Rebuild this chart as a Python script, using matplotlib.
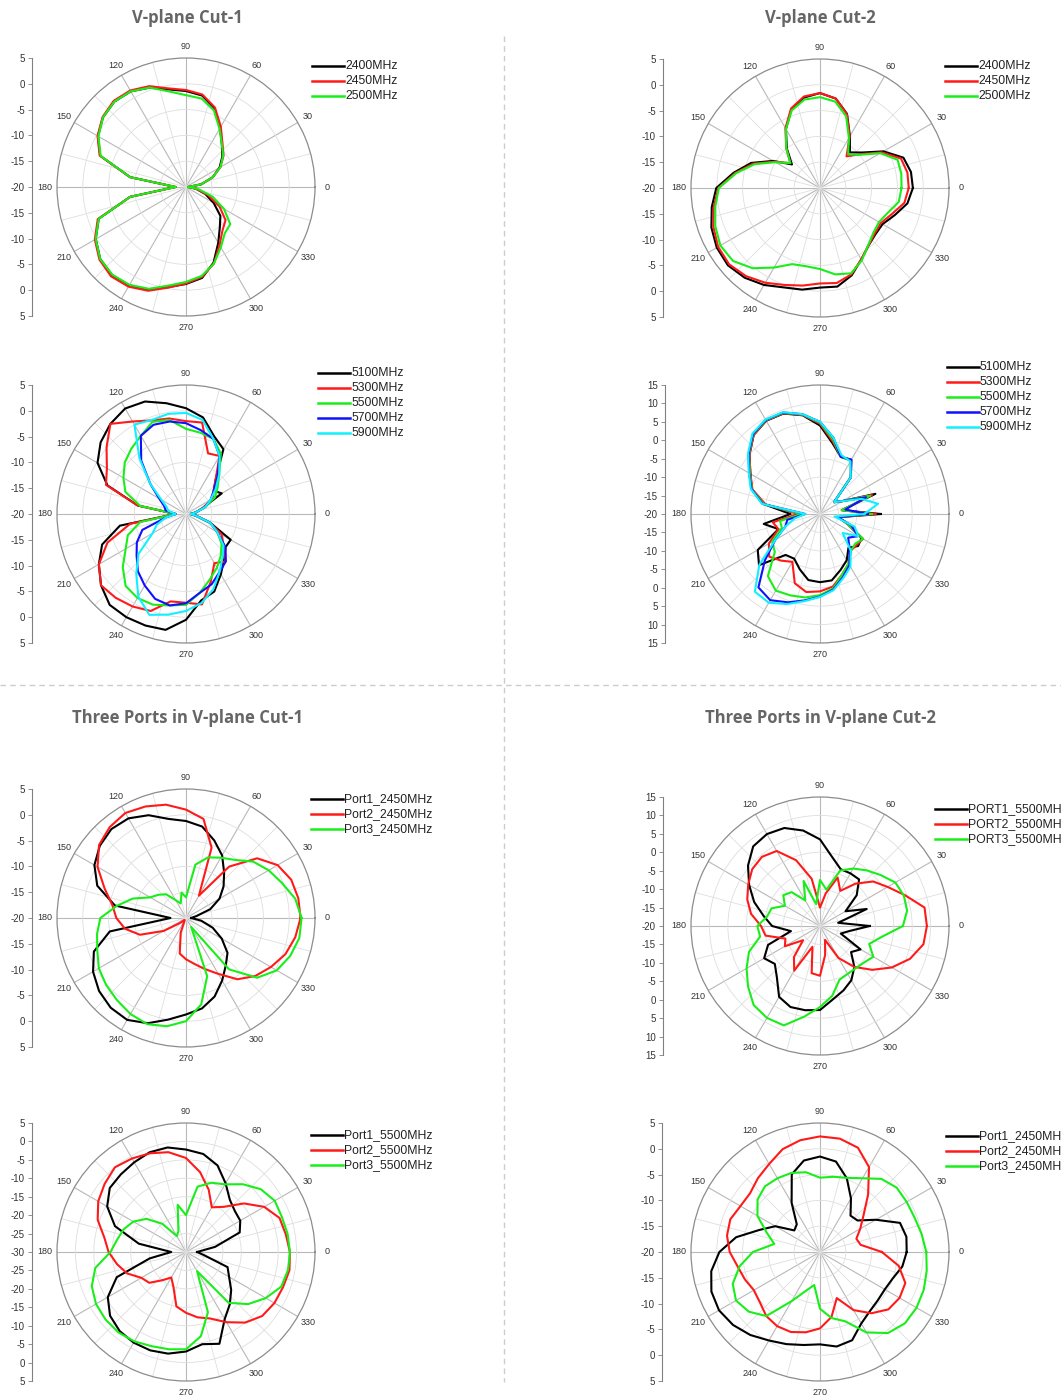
import numpy as np
import matplotlib
matplotlib.use("Agg")
import matplotlib.pyplot as plt
from matplotlib.lines import Line2D

W, H = 1061, 1396
plt.rcParams['font.family'] = ['Liberation Sans', 'DejaVu Sans']

# angles of the measured points (deg), values in dB
ANGLES = np.arange(0, 360, 10)

# V-plane Cut-1, 2.4 GHz band
cut1_2400 = [-19.5, -17, -14.5, -12.5, -10.8, -9.2, -6.8, -3.8, -2.0, -1.4, -0.8, 0.5, 1.4, 1.6, 1.0, -0.3, -2.3, -9,
             -18, -9, -2.0, 0.2, 1.7, 2.3, 2.0, 1.2, -0.3, -1.2, -2.1, -4.4, -7.5, -9.8, -11.3, -13.8, -16, -18]
cut1_2450 = [-19.5, -17, -14.5, -12.3, -10.5, -9, -6.5, -3.6, -1.8, -1.2, -0.6, 0.8, 1.6, 1.8, 1.1, -0.2, -2.2, -9,
             -18, -9, -1.8, 0.4, 1.9, 2.6, 2.3, 1.4, -0.2, -1.3, -2.3, -4.2, -7, -9, -10, -12.5, -15.5, -18]
cut1_2500 = [-19.5, -17, -14.5, -12.3, -10.6, -9.2, -7, -4.2, -2.6, -2.2, -1.2, 0.5, 1.4, 1.6, 1.0, -0.4, -2.4, -9,
             -18, -9, -2.0, 0.2, 1.7, 2.2, 1.9, 1.0, -0.6, -1.6, -2.5, -4.2, -6.5, -8.3, -8.8, -11.5, -14.5, -17.5]

# V-plane Cut-2, 2.4 GHz band
cut2_2400 = [-2.0, -2.1, -2.8, -5.8, -9.3, -11, -8.4, -4.7, -2.4, -1.6, -2.2, -3.8, -6.8, -10, -12.9, -9.5, -5.8, -3.0,
             0.1, 1.3, 2.4, 3.1, 3.3, 2.7, 1.7, 0.5, 0.0, -0.7, -0.6, -2.0, -4.0, -5.4, -6.0, -6.0, -4.6, -2.8]
cut2_2450 = [-2.8, -2.8, -3.3, -6.2, -9.8, -12, -8.5, -4.8, -2.4, -1.6, -2.0, -3.6, -6.6, -9.8, -12.5, -9.8, -6.2, -3.3,
             -0.3, 0.9, 2.0, 2.8, 3.0, 2.3, 1.2, 0.0, -0.8, -1.5, -1.3, -2.2, -4.0, -5.4, -6.2, -6.4, -5.2, -3.4]
cut2_2500 = [-4.2, -4.0, -4.0, -6.5, -10, -11.5, -8.8, -5.2, -3.0, -2.4, -2.6, -4.0, -6.8, -9.8, -12.5, -10, -6.5, -3.5,
             -0.4, 0.6, 1.6, 2.3, 2.0, 0.3, -2.2, -4.3, -4.6, -4.3, -3.0, -2.4, -3.8, -5.5, -6.5, -6.8, -6.0, -4.5]

# V-plane Cut-1, 5 GHz band
cut1_5100 = [-19, -18, -16.5, -12, -13, -11, -5.5, -4, -1, 0.5, 1.8, 3.2, 3.6, 2.8, 1.6, -0.2, -3.8, -10.5,
             -18, -7, -2.7, -0.5, 1.5, 3, 3.1, 3, 2.8, 0.5, -3, -4, -6.5, -8.5, -10, -10, -15, -18]
cut1_5300 = [-19, -18, -16.5, -14, -13, -11, -7, -7.5, -2, -2, -1.2, -0.7, 0.7, 2.8, 0.1, -2.3, -3.5, -10.5,
             -18, -9, -3.8, -0.5, 1.5, 1.2, 0.7, 0, -2.8, -2.8, -2.2, -6, -9, -8, -10.5, -12, -15, -18]
cut1_5500 = [-19, -18, -16, -13.5, -12, -10, -6.5, -4.5, -4, -3.5, -1.5, -1, -2.5, -3.5, -4.5, -6, -7.5, -11,
             -18, -11, -8, -6.5, -4, -1.8, -1.2, -1.3, -2, -2.4, -4.5, -6.5, -8, -9.5, -11, -13, -15, -18]
cut1_5700 = [-19, -18, -16, -14.5, -13, -10.5, -7, -4.5, -3.5, -2.4, -1.8, -1.6, -2.5, -6.5, -11, -14, -15.5, -16,
             -18, -16, -11, -9, -7.5, -5.5, -4, -2.5, -2, -2.7, -4.5, -5.5, -7, -8, -10, -13, -15, -18]
cut1_5900 = [-19, -18, -16, -14.5, -12.5, -10, -7, -4.5, -1.5, -0.4, -0.3, -0.6, 0, -6, -11, -14.5, -16, -16.5,
             -18, -16, -14, -12.5, -8, -5, -1.5, 0.8, -0.2, -1.2, -2.5, -4.5, -7, -9, -10.5, -13, -15, -18]

# V-plane Cut-2, 5 GHz band
cut2_5100 = [-3.5, -14, -4, -13, -15, -7, -3, -3.5, -0.5, 4, 7.2, 9, 9.2, 8, 5, 1.8, -0.3, -4.5,
             -12, -4.5, -8, -0.5, 1.6, -5.5, -6, -4, -1.8, -1.5, -1.7, -3.8, -5.5, -8, -6.5, -7, -12, -15]
cut2_5300 = [-5, -14, -5, -13, -15, -7, -3.2, -3.5, 0, 4.5, 7.3, 9.1, 9.3, 8, 5, 1.8, -0.5, -5,
             -14, -7, -8, -4, -2, -3.5, -5, 0, 1.5, 1, 0, -2.5, -4.5, -7, -7, -6.5, -12, -15]
cut2_5500 = [-6, -14, -5.5, -13, -15, -7, -3.3, -3.5, 0.5, 4.8, 7.4, 9.2, 9.4, 8.2, 5.2, 2, -0.3, -4.5,
             -15, -9, -9, -5, -4, 2, 4, 3.5, 3, 2, 0.5, -2.5, -4.5, -7, -7.5, -6.5, -12, -15]
cut2_5700 = [-7, -13, -6.7, -13, -15, -7, -3, -3.5, 1, 5, 7.5, 9.3, 9.5, 8.3, 5.3, 2.2, -0.2, -4.2,
             -16, -11, -10, -6, -0.5, 6, 7, 5.5, 3.8, 2.4, 0.8, -1.8, -4, -7.5, -10, -8, -11, -15]
cut2_5900 = [-8, -4, -8, -13, -15, -7, -3.5, -3, 1, 5, 7.5, 9.4, 9.6, 8.5, 5.5, 2.3, 0, -4,
             -16, -13, -10, -6, 1.5, 7.5, 7.8, 6, 4, 2.5, 1, -1.5, -3.5, -7, -12, -8, -10, -16]

# Three ports, Cut-1, 2450 MHz
p3c1_2g_port1 = [-19, -18, -15, -12.5, -10.5, -8.5, -6, -4, -2, -1.2, -0.5, 1.2, 2.3, 2.5, 1.8, 0.5, -1.7, -6,
                 -17, -5, -1, 0.8, 2, 2.7, 2.8, 1.7, 0, -1.3, -2.2, -3.8, -6, -8, -9.5, -12, -14.5, -17]
p3c1_2g_port2 = [2.2, 2.1, 1.7, 0.5, -2, -7, -15, -5.5, -0.5, 1.0, 2.3, 3.0, 3.5, 3.0, 2, -0.2, -3.2, -5.5,
                 -6.5, -8, -10.5, -15, -18.5, -19.5, -19.5, -17, -13, -12, -11, -9.5, -7.5, -4.5, -2.5, -1, 0.5, 1.5]
p3c1_2g_port3 = [2.4, 1.5, -0.2, -1.5, -3, -5.3, -6.5, -7.5, -9.5, -16, -15, -17, -16, -14, -13, -12, -9, -6.4,
                 -3.4, -2.5, -1.7, -0.5, 0.2, 0.8, 1.5, 1.9, 1.3, 0, -3, -8, -18, -7, -2, 0.3, 1.5, 2.3]

# Three ports, Cut-2, 5500 MHz
p3c2_5g_port1 = [-6.5, -15, -6.5, -12, -7, -3.5, -3.5, -3.6, -1, 3.5, 6.3, 8.3, 8.8, 8.2, 5.5, 2.2, -1, -4.5,
                 -7, -12, -5, -2.5, -4, -1.8, 2.2, 3.4, 3.2, 2.8, 0.2, -1.4, -3, -5.5, -9, -7.3, -14, -12]
p3c2_5g_port2 = [9, 8.8, 4.5, 1.2, -1.2, -5, -9, -6, -11, -15, -7, -1, 3.5, 4.5, 4, 2.5, 1, -1,
                 -4, -5, -10, -9, -14, -9, -6, -14, -7, -6.5, -12, -16, -10, -5.5, -1.5, 2.5, 6, 8.5]
p3c2_5g_port3 = [2.5, 4, 4.2, 3.6, 1.5, -0.3, -2, -4, -10, -7.5, -14, -7, -12, -8, -7, -9, -6, -5.4,
                 -3, -3.5, 0.5, 3, 5.5, 8, 8.8, 8.7, 5, 2, -0.8, -4.5, -5, -5, -4.5, -3.3, -5.8, -3]

# Three ports, Cut-1, 5500 MHz
p3c1_5g_port1 = [-27, -22, -14.5, -13, -12.7, -11.5, -8.5, -5, -3, -2.2, -1.2, -1.2, -1.9, -2.5, -3, -5.3, -9.5, -17,
                 -26, -20, -10, -5.5, -3.1, -2, -1.6, -1.6, -2, -3, -4.6, -3.5, -9, -11.5, -14, -16.5, -18, -25]
p3c1_5g_port2 = [-1.8, -2.5, -3, -5.5, -9.5, -14, -16, -12, -8, -4.5, -2.5, -1.5, -0.7, 0, -1.2, -2.5, -4.5, -7.5,
                 -9, -11, -13, -16, -17, -20, -22, -20, -15, -13.5, -12, -10.8, -8, -5, -3, -2.3, -2, -1.5]
p3c1_5g_port3 = [-1.8, -2, -2.3, -2.2, -3.5, -6, -8.8, -10, -12, -20, -17, -24, -25, -20, -16, -13.5, -12, -11,
                 -9.5, -5, -2.8, -1.8, -1.5, -1.5, -2, -2.8, -3.2, -3.6, -6.8, -12.6, -24, -12, -8, -5, -2.5, -1.9]

# Three ports, Cut-2, 2450 MHz
p3c2_2g_port1 = [-3.2, -3, -3.5, -7.5, -10.5, -10.8, -8, -4.8, -2.2, -1.5, -2, -4, -9, -13, -13.5, -10, -7.5, -3.5,
                 -0.5, 1.4, 2.4, 2.6, 2, 1, -0.2, -1, -1.7, -2.1, -1.4, -1.8, -4, -5, -5.4, -5.5, -5, -3.8]
p3c2_2g_port2 = [-8, -12, -12.5, -11, -9, -5.5, -1, 1.5, 2.3, 2.4, 2.0, 1.2, -0.3, -1.3, -2.3, -2.2, -1.5, -1.7,
                 -2.5, -3.8, -4.5, -5.2, -4.8, -3.8, -3.4, -3.5, -4.2, -5.2, -7.2, -10.5, -7, -4.5, -2.7, -2.2, -2.4, -4.5]
p3c2_2g_port3 = [0.6, 0, -0.5, -0.6, -0.6, -1.5, -3.5, -4.7, -5.2, -5.6, -4.3, -3.7, -3.5, -3.4, -4.2, -6, -9, -11,
                 -7, -4.2, -2, -1.2, -2, -3.8, -9, -12, -13.5, -9, -7, -5.7, -2, 0.5, 1.5, 1.6, 1.4, 1]

BLACK, RED, GREEN, BLUE, CYAN = '#000000', '#ff1a1a', '#1aee1a', '#1010ff', '#10f0ff'

fig = plt.figure(figsize=(W / 100, H / 100), dpi=100)


def px_rect(x, y, w, h):
    return [x / W, 1 - (y + h) / H, w / W, h / H]


def panel(cx, cy, axis_x, rmin, rmax, curves, leg_x, leg_y, R=129):
    ax = fig.add_axes(px_rect(cx - R, cy - R, 2 * R, 2 * R), projection='polar')
    th = np.deg2rad(np.append(ANGLES, 360))
    for label, color, vals in curves:
        ax.plot(th, np.append(vals, vals[0]), color=color, lw=1.5, zorder=3)
    ax.set_ylim(rmin, rmax)
    ax.set_yticks(np.arange(rmin + 5, rmax, 5))
    ax.set_yticklabels([])
    ax.set_xticks(np.deg2rad(np.arange(0, 360, 30)))
    ax.set_xticklabels([str(a) for a in range(0, 360, 30)], fontsize=6.5, color='#333333')
    ax.set_xticks(np.deg2rad(np.arange(15, 360, 30)), minor=True)
    ax.xaxis.grid(True, which='major', color='#b8b8b8', lw=0.8)
    ax.xaxis.grid(True, which='minor', color='#dedede', lw=0.6)
    ax.yaxis.grid(True, color='#dedede', lw=0.6)
    ax.tick_params(axis='x', which='major', pad=1.5, length=0)
    ax.tick_params(axis='x', which='minor', length=3, width=0.6, direction='in', color='#8c8c8c')
    ax.spines['polar'].set_color('#8c8c8c')
    ax.spines['polar'].set_linewidth(0.9)
    ax.set_axisbelow(True)

    # mirrored dB scale on the left
    span = rmax - rmin
    lax = fig.add_axes(px_rect(axis_x, cy - R, 1, 2 * R))
    lax.set_ylim(-span, span)
    pos = np.arange(-span, span + 1, 5)
    lax.set_yticks(pos)
    lax.set_yticklabels([f"{rmin + abs(p):g}" for p in pos])
    for s in ['top', 'right', 'bottom']:
        lax.spines[s].set_visible(False)
    lax.spines['left'].set_color('#808080')
    lax.spines['left'].set_linewidth(0.8)
    lax.set_xticks([])
    lax.patch.set_visible(False)
    lax.tick_params(axis='y', labelsize=7, length=3, width=0.6, color='#808080',
                    labelcolor='#333333', pad=2)

    for i, (label, color, vals) in enumerate(curves):
        y = 1 - (leg_y + 15 * i) / H
        fig.add_artist(Line2D([leg_x / W, (leg_x + 32) / W], [y, y], color=color, lw=1.8))
        fig.text((leg_x + 33) / W, y, label, fontsize=8.8, va='center', color='#222222')


panel(186, 187, 32, -20, 5,
      [('2400MHz', BLACK, cut1_2400), ('2450MHz', RED, cut1_2450), ('2500MHz', GREEN, cut1_2500)], 312, 66)
panel(820, 188, 663, -20, 5,
      [('2400MHz', BLACK, cut2_2400), ('2450MHz', RED, cut2_2450), ('2500MHz', GREEN, cut2_2500)], 945, 66)
panel(186, 514, 32, -20, 5,
      [('5100MHz', BLACK, cut1_5100), ('5300MHz', RED, cut1_5300), ('5500MHz', GREEN, cut1_5500),
       ('5700MHz', BLUE, cut1_5700), ('5900MHz', CYAN, cut1_5900)], 318, 373)
panel(820, 514, 665, -20, 15,
      [('5100MHz', BLACK, cut2_5100), ('5300MHz', RED, cut2_5300), ('5500MHz', GREEN, cut2_5500),
       ('5700MHz', BLUE, cut2_5700), ('5900MHz', CYAN, cut2_5900)], 947, 367)
panel(186, 918, 32, -20, 5,
      [('Port1_2450MHz', BLACK, p3c1_2g_port1), ('Port2_2450MHz', RED, p3c1_2g_port2),
       ('Port3_2450MHz', GREEN, p3c1_2g_port3)], 311, 799)
panel(820, 926, 663, -20, 15,
      [('PORT1_5500MHz', BLACK, p3c2_5g_port1), ('PORT2_5500MHz', RED, p3c2_5g_port2),
       ('PORT3_5500MHz', GREEN, p3c2_5g_port3)], 935, 809)
panel(186, 1252, 32, -30, 5,
      [('Port1_5500MHz', BLACK, p3c1_5g_port1), ('Port2_5500MHz', RED, p3c1_5g_port2),
       ('Port3_5500MHz', GREEN, p3c1_5g_port3)], 311, 1135)
panel(820, 1252, 662, -20, 5,
      [('Port1_2450MHz', BLACK, p3c2_2g_port1), ('Port2_2450MHz', RED, p3c2_2g_port2),
       ('Port3_2450MHz', GREEN, p3c2_2g_port3)], 946, 1136)

# section titles
title_kw = dict(ha='center', va='center', fontsize=12, fontweight='bold', color='#666666',
                family=['Open Sans', 'DejaVu Sans'])
fig.text(187 / W, 1 - 18 / H, 'V-plane Cut-1', **title_kw)
fig.text(820 / W, 1 - 18 / H, 'V-plane Cut-2', **title_kw)
fig.text(187 / W, 1 - 718 / H, 'Three Ports in V-plane Cut-1', **title_kw)
fig.text(820 / W, 1 - 718 / H, 'Three Ports in V-plane Cut-2', **title_kw)

# dashed separators
fig.add_artist(Line2D([504 / W, 504 / W], [1 - 36 / H, 1 - 1382 / H], color='#cccccc', lw=1, ls=(0, (4, 3))))
fig.add_artist(Line2D([0, 1], [1 - 685 / H, 1 - 685 / H], color='#cccccc', lw=1, ls=(0, (4, 3))))

fig.savefig('out.png', dpi=100)
